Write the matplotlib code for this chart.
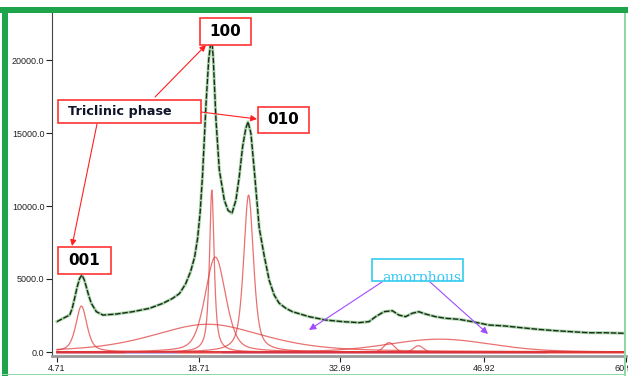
import matplotlib.pyplot as plt
from matplotlib.patches import Rectangle
import numpy as np

W, H = 628, 376

# measured pattern (2-theta, counts)
two_theta = [4.71, 5.3, 5.96, 6.2, 6.45, 6.7, 6.95, 7.17, 7.4, 7.6, 7.85, 8.1, 8.6,
             9.25, 10.56, 12.2, 13.84, 15.16, 16.14, 16.8, 17.4, 17.9, 18.3, 18.6,
             18.85, 19.09, 19.43, 19.69, 19.98, 20.15, 20.41, 20.74, 21.23, 21.6,
             21.99, 22.38, 22.71, 23.04, 23.35, 23.57, 23.86, 24.19, 24.68, 25.17,
             25.67, 26.16, 26.65, 27.3, 27.96, 29.6, 31.25, 32.9, 34.53, 35.52,
             36.18, 37.0, 37.82, 38.47, 39.13, 39.78, 40.44, 41.1, 42.09, 43.07,
             44.38, 45.7, 47.34, 48.98, 50.62, 52.27, 53.91, 55.55, 57.19, 58.84,
             60.8]
counts = [2080, 2300, 2530, 2950, 3675, 4450, 5040, 5270, 4950, 4470, 3850, 3330, 2760,
          2530, 2600, 2760, 2990, 3330, 3680, 4000, 4650, 5500, 6500, 7800,
          9600, 12200, 17030, 20000, 21710, 20000, 15890, 12470, 10410, 9700,
          9500, 10410, 12010, 14060, 15300, 15770, 14980, 12470, 8500, 6600,
          4900, 3900, 3340, 3000, 2760, 2420, 2190, 2080, 2010, 2080,
          2420, 2760, 2830, 2530, 2420, 2650, 2760, 2600, 2420, 2310,
          2240, 2080, 1850, 1780, 1660, 1550, 1460, 1390, 1320, 1320,
          1280]

# fitted peak components: centre, height, fwhm, lorentz fraction
pk_center = [7.12, 19.6, 20.0, 20.35, 23.63, 37.5, 40.4, 42.5]
pk_height = [3150, 1900, 11100, 6500, 10750, 640, 430, 880]
pk_fwhm = [1.3, 13.0, 0.55, 2.4, 1.15, 1.2, 1.1, 12.0]
pk_eta = [0.6, 0.5, 0.8, 0.4, 0.6, 0.0, 0.0, 0.2]

x_ticks = [4.71, 18.71, 32.69, 46.92, 60.9]
y_ticks = [0, 5000, 10000, 15000, 20000]


def pseudo_voigt(x, c, h, w, eta):
    g = np.exp(-4 * np.log(2) * ((x - c) / w) ** 2)
    l = 1 / (1 + ((x - c) / (w / 2)) ** 2)
    return h * (eta * l + (1 - eta) * g)


def fx(px):
    return px / W


def fy(py):
    return 1 - py / H


fig = plt.figure(figsize=(W / 100, H / 100), dpi=100)
ax = fig.add_axes([fx(52), fy(356), fx(626 - 52), (356 - 13) / H])

x = np.linspace(4.71, 61, 1500)
for c, h, w, e in zip(pk_center, pk_height, pk_fwhm, pk_eta):
    ax.plot(x, pseudo_voigt(x, c, h, w, e), color='#e03535', lw=0.9, alpha=0.7, zorder=3)

# zero lines of the fit window
ax.plot([4.71, 61], [0, 0], color='#f2a0a0', lw=2.2, zorder=2)
ax.plot([4.71, 11.5], [0, 0], color='#a040b0', lw=1, zorder=2)
ax.plot([11.5, 16.5], [0, 0], color='#b8b0f0', lw=2, zorder=2)
ax.plot([21, 53], [0, 0], color='#a040b0', lw=1, zorder=2)

ax.plot(two_theta, counts, color='#a8d6a8', lw=2.2, zorder=4)
ax.plot(two_theta, counts, color='#1c2a1c', lw=1.0, dashes=(4, 1.2), zorder=5)

ax.set_xlim(4.71 - 5 / 10.15, 4.71 + (626 - 57) / 10.15)
ax.set_ylim(-4 * 5000 / 73, (352 - 13) * 5000 / 73)
ax.set_xticks(x_ticks)
ax.set_xticklabels(['%.2f' % v for v in x_ticks[:-1]] + ['60.91'])
ax.set_yticks(y_ticks)
ax.set_yticklabels(['%.1f' % v for v in y_ticks])
ax.tick_params(axis='both', labelsize=6.5, length=4, width=0.8, pad=1.5, colors='#222222')
for lab in ax.get_xticklabels() + ax.get_yticklabels():
    lab.set_family('Liberation Sans')
ax.spines['top'].set_visible(False)
ax.spines['right'].set_visible(False)
ax.spines['left'].set_color('#444444')
ax.spines['bottom'].set_color('#999999')
ax.spines['bottom'].set_linewidth(2)

# label boxes
boxes = [
    ('100', 200, 18, 251, 45),
    ('010', 258, 107, 309, 133),
    ('001', 58, 247, 111, 274),
]
for txt, x0, y0, x1, y1 in boxes:
    fig.add_artist(Rectangle((fx(x0), fy(y1)), fx(x1 - x0), (y1 - y0) / H,
                             transform=fig.transFigure, facecolor='white',
                             edgecolor='#ff3333', lw=1.2, zorder=10))
    fig.text(fx((x0 + x1) / 2), fy((y0 + y1) / 2), txt, ha='center', va='center',
             fontsize=11, fontweight='bold', color='black', zorder=11)

fig.add_artist(Rectangle((fx(58), fy(123)), fx(201 - 58), 23 / H,
                         transform=fig.transFigure, facecolor='white',
                         edgecolor='#ff3333', lw=1.2, zorder=10))
fig.text(fx(68), fy(111.5), 'Triclinic phase', ha='left', va='center',
         fontsize=9.2, fontweight='bold', color='#10142a', zorder=11)

arrows = [((155, 97), (206, 45)), ((201, 112), (257, 119)), ((97, 124), (72, 246))]
for (sx, sy), (ex, ey) in arrows:
    ax.annotate('', xy=(ex, H - ey), xytext=(sx, H - sy), xycoords='figure pixels',
                textcoords='figure pixels', zorder=9,
                arrowprops=dict(arrowstyle='-|>', color='#ff2020', lw=0.8,
                                mutation_scale=9, shrinkA=0, shrinkB=0))

# amorphous label, text cut by its frame
am_box = Rectangle((fx(372), fy(281)), fx(463 - 372), 22 / H, transform=fig.transFigure,
                   facecolor='white', edgecolor='#33ccee', lw=1.2, zorder=10)
fig.add_artist(am_box)
am = fig.text(fx(382), fy(282), 'amorphous', ha='left', va='baseline', fontsize=10,
              family='DejaVu Serif', color='#33c8f8', zorder=11)
am.set_clip_path(am_box)

for (sx, sy), (ex, ey) in [((382, 282), (309, 330)), ((430, 282), (488, 334))]:
    ax.annotate('', xy=(ex, H - ey), xytext=(sx, H - sy), xycoords='figure pixels',
                textcoords='figure pixels', zorder=9,
                arrowprops=dict(arrowstyle='-|>', color='#a24cff', lw=0.8,
                                mutation_scale=10, shrinkA=0, shrinkB=0))

# window frame
fig.add_artist(Rectangle((0, fy(13)), 1, 6 / H, transform=fig.transFigure,
                         facecolor='#1ea54c', edgecolor='none', zorder=20))
fig.add_artist(Rectangle((fx(2), 0), fx(6), fy(7), transform=fig.transFigure,
                         facecolor='#1ea54c', edgecolor='none', zorder=20))
fig.add_artist(Rectangle((fx(624), 0), fx(1.5), fy(13), transform=fig.transFigure,
                         facecolor='#8fd8a8', edgecolor='none', zorder=20))
fig.add_artist(Rectangle((fx(2), fy(375)), fx(623), 1.5 / H, transform=fig.transFigure,
                         facecolor='#8fd8a8', edgecolor='none', zorder=20))

fig.savefig('out.png', dpi=100)
